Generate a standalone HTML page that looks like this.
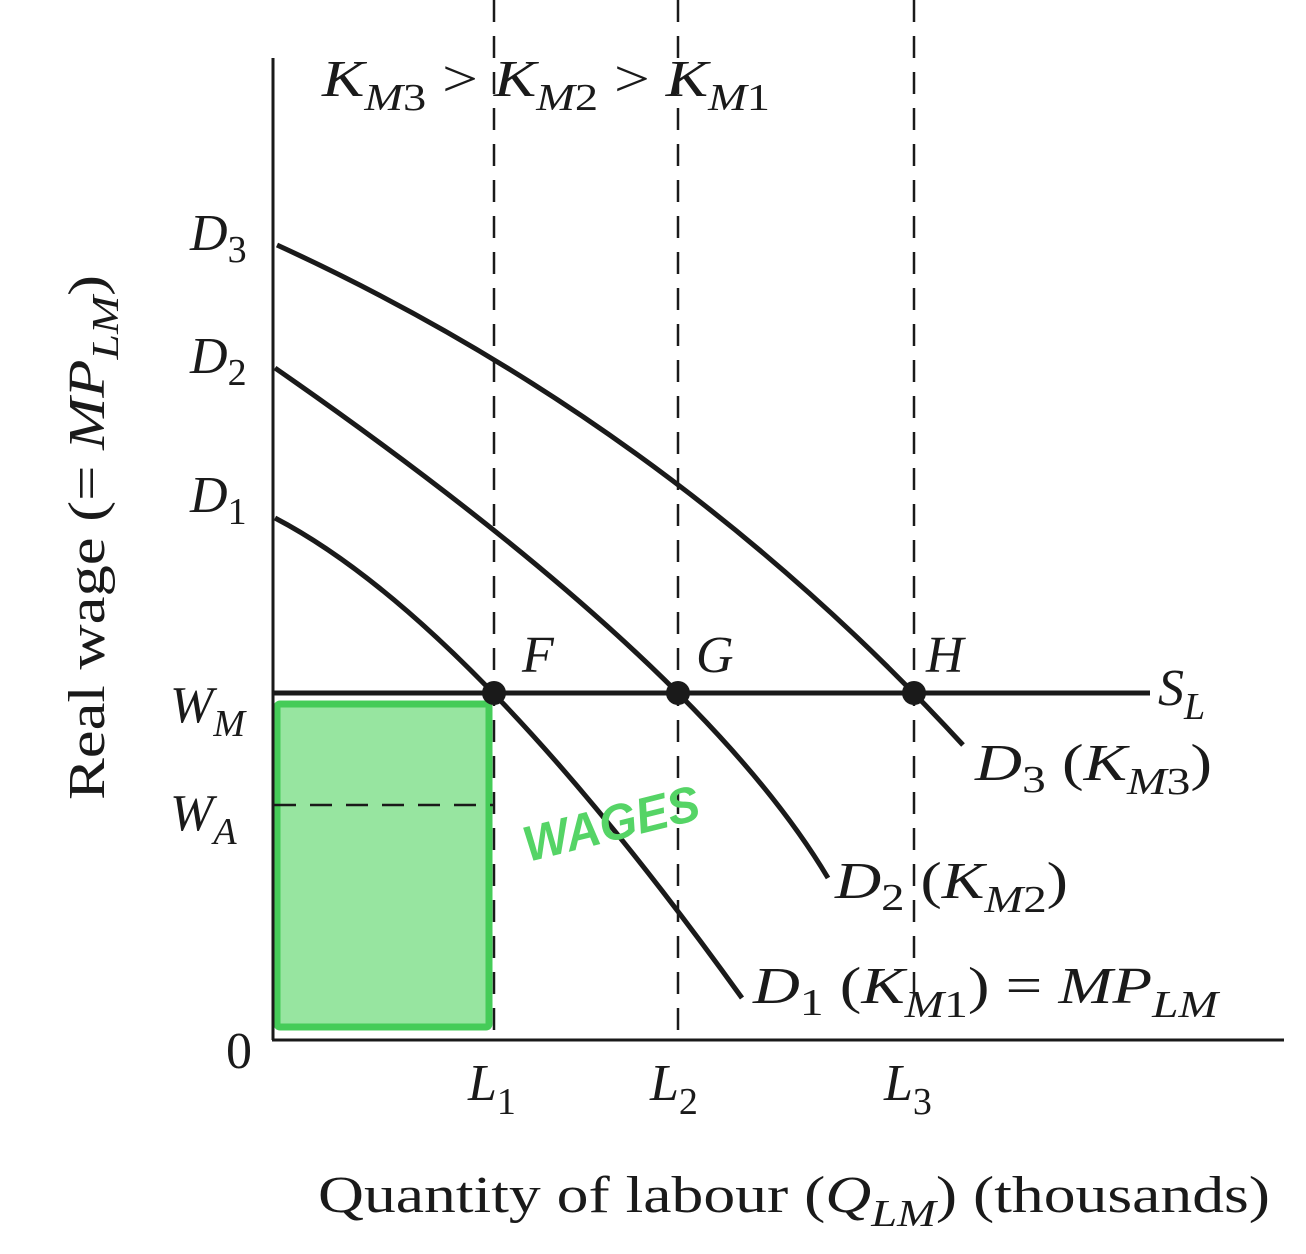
<!DOCTYPE html>
<html><head><meta charset="utf-8"><style>
html,body{margin:0;padding:0;background:#fff;}
svg{display:block;}
text{font-family:"Liberation Serif",serif;fill:#1a1a1a;}
.i{font-style:italic;}
</style></head><body>
<svg width="1306" height="1254" viewBox="0 0 1306 1254" xmlns="http://www.w3.org/2000/svg">
<rect x="277" y="704" width="212" height="323" fill="#97e5a0" stroke="#45cc58" stroke-width="7" rx="3"/>
<line x1="273" y1="58" x2="273" y2="1040" stroke="#1a1a1a" stroke-width="3"/>
<line x1="272" y1="1040" x2="1284" y2="1040" stroke="#1a1a1a" stroke-width="3"/>
<g stroke="#1a1a1a" stroke-width="2.5" stroke-dasharray="22,14">
<line x1="494" y1="0" x2="494" y2="1040"/>
<line x1="678" y1="0" x2="678" y2="1040"/>
<line x1="914" y1="0" x2="914" y2="1000"/>
<line x1="274" y1="805" x2="494" y2="805"/>
</g>
<line x1="273" y1="693" x2="1150" y2="693" stroke="#1a1a1a" stroke-width="5"/>
<g fill="none" stroke="#1a1a1a" stroke-width="5">
<path d="M275,518 Q470,620 742,998"/>
<path d="M275,368 Q700,663 828,878"/>
<path d="M277,245 Q668,424 963,745"/>
</g>
<g fill="#1a1a1a">
<circle cx="494" cy="693" r="12"/><circle cx="678" cy="693" r="12"/><circle cx="914" cy="693" r="12"/>
</g>
<text x="528" y="862" transform="rotate(-14 528 862)" style="font-family:'Liberation Sans',sans-serif;font-style:italic;font-weight:bold;fill:#55d466" font-size="50" textLength="180" lengthAdjust="spacingAndGlyphs">WAGES</text>
<g font-size="52">
<text x="322" y="96" textLength="448" lengthAdjust="spacingAndGlyphs"><tspan class="i">K</tspan><tspan class="i" font-size="38" dy="14">M</tspan><tspan font-size="38">3</tspan><tspan dy="-14"> &gt; </tspan><tspan class="i">K</tspan><tspan class="i" font-size="38" dy="14">M</tspan><tspan font-size="38">2</tspan><tspan dy="-14"> &gt; </tspan><tspan class="i">K</tspan><tspan class="i" font-size="38" dy="14">M</tspan><tspan font-size="38">1</tspan></text>
<text x="190" y="250"><tspan class="i">D</tspan><tspan font-size="38" dy="12">3</tspan></text>
<text x="190" y="373"><tspan class="i">D</tspan><tspan font-size="38" dy="12">2</tspan></text>
<text x="190" y="512"><tspan class="i">D</tspan><tspan font-size="38" dy="12">1</tspan></text>
<text x="170" y="722"><tspan class="i">W</tspan><tspan class="i" font-size="38" dy="14">M</tspan></text>
<text x="170" y="830"><tspan class="i">W</tspan><tspan class="i" font-size="38" dy="14">A</tspan></text>
<text x="226" y="1068">0</text>
<text class="i" x="522" y="672">F</text>
<text class="i" x="696" y="672">G</text>
<text class="i" x="926" y="672">H</text>
<text x="1158" y="705"><tspan class="i">S</tspan><tspan class="i" font-size="38" dy="14">L</tspan></text>
<text x="975" y="780" textLength="237" lengthAdjust="spacingAndGlyphs"><tspan class="i">D</tspan><tspan font-size="38" dy="12">3</tspan><tspan dy="-12"> (</tspan><tspan class="i">K</tspan><tspan class="i" font-size="38" dy="14">M</tspan><tspan font-size="38">3</tspan><tspan dy="-14">)</tspan></text>
<text x="835" y="898" textLength="233" lengthAdjust="spacingAndGlyphs"><tspan class="i">D</tspan><tspan font-size="38" dy="12">2</tspan><tspan dy="-12"> (</tspan><tspan class="i">K</tspan><tspan class="i" font-size="38" dy="14">M</tspan><tspan font-size="38">2</tspan><tspan dy="-14">)</tspan></text>
<text x="753" y="1003" textLength="465" lengthAdjust="spacingAndGlyphs"><tspan class="i">D</tspan><tspan font-size="38" dy="12">1</tspan><tspan dy="-12"> (</tspan><tspan class="i">K</tspan><tspan class="i" font-size="38" dy="14">M</tspan><tspan font-size="38">1</tspan><tspan dy="-14">) = </tspan><tspan class="i">MP</tspan><tspan class="i" font-size="38" dy="14">LM</tspan></text>
<text x="468" y="1100"><tspan class="i">L</tspan><tspan font-size="38" dy="14">1</tspan></text>
<text x="650" y="1100"><tspan class="i">L</tspan><tspan font-size="38" dy="14">2</tspan></text>
<text x="884" y="1100"><tspan class="i">L</tspan><tspan font-size="38" dy="14">3</tspan></text>
<text x="318" y="1212" textLength="952" lengthAdjust="spacingAndGlyphs">Quantity of labour (<tspan class="i">Q</tspan><tspan class="i" font-size="38" dy="14">LM</tspan><tspan dy="-14">) (thousands)</tspan></text>
<text transform="translate(104 800) rotate(-90)" textLength="525" lengthAdjust="spacingAndGlyphs">Real wage (= <tspan class="i">MP</tspan><tspan class="i" font-size="38" dy="14">LM</tspan><tspan dy="-14">)</tspan></text>
</g>
</svg>
</body></html>
